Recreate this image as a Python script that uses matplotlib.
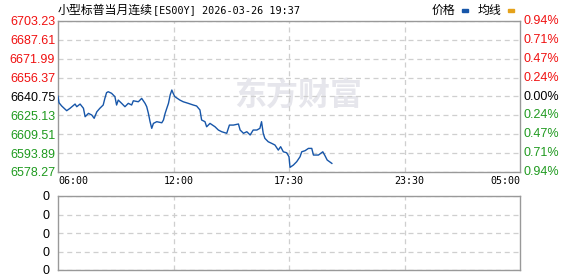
import matplotlib
matplotlib.use("Agg")
import matplotlib.pyplot as plt
import numpy as np

# minutes since 06:00, and price
minutes = [0, 3, 11, 26, 36, 51, 56, 66, 76, 81, 91, 101, 108, 116, 125, 135, 140, 145,
           150, 160, 170, 175, 180, 190, 200, 210, 220, 225, 240, 250, 260, 265, 270, 275,
           280, 285, 295, 310, 315, 320, 325, 330, 335, 340, 344, 349, 364, 374, 389, 404,
           414, 424, 429, 439, 444, 454, 469, 479, 489, 504, 512, 524, 539, 544, 554, 564,
           574, 583, 594, 603, 608, 613, 618, 628, 638, 648, 658, 665, 673, 683, 690, 693,
           703, 713, 723, 728, 738, 748, 758, 763, 778, 791, 798, 804, 811, 818]
prices = [6641.0, 6635.6, 6632.9, 6629.0, 6631.0, 6634.5, 6632.3, 6634.5, 6631.0, 6624.0,
          6626.8, 6625.4, 6622.7, 6628.1, 6631.0, 6633.7, 6639.2, 6643.9, 6644.7, 6643.4,
          6640.6, 6633.7, 6637.8, 6635.1, 6632.3, 6635.1, 6633.7, 6637.2, 6636.4, 6639.2,
          6635.1, 6632.3, 6626.8, 6619.9, 6614.4, 6618.5, 6619.9, 6619.0, 6621.3, 6626.8,
          6631.0, 6635.1, 6642.0, 6646.1, 6643.4, 6640.6, 6637.8, 6636.4, 6635.1, 6633.7,
          6632.9, 6629.6, 6621.3, 6619.9, 6615.7, 6618.5, 6615.7, 6613.0, 6611.6, 6610.3,
          6617.1, 6617.1, 6618.0, 6613.0, 6610.3, 6611.6, 6608.9, 6613.0, 6613.0, 6614.4,
          6619.9, 6610.3, 6606.1, 6603.3, 6602.0, 6600.6, 6596.4, 6599.2, 6595.0, 6594.2,
          6590.9, 6582.1, 6584.0, 6586.8, 6590.9, 6595.0, 6595.9, 6597.8, 6597.8, 6592.3,
          6592.3, 6595.0, 6591.5, 6588.2, 6586.8, 6585.4]

prev_close = 6640.75
price_ticks = [6703.23, 6687.61, 6671.99, 6656.37, 6640.75, 6625.13, 6609.51, 6593.89, 6578.27]
pct_labels = ["0.94%", "0.71%", "0.47%", "0.24%", "0.00%", "0.24%", "0.47%", "0.71%", "0.94%"]
time_labels = ["06:00", "12:00", "17:30", "23:30", "05:00"]
time_pos = [0, 360, 690, 1050, 1380]
grid_pos = [345, 690, 1035]

RED = "#f01010"
GREEN = "#1f9a1f"
BLUE = "#1756a9"
ORANGE = "#e5a21a"
GRID = "#cfcfcf"
SPINE = "#999999"

W, H = 578, 276
fig = plt.figure(figsize=(W / 100, H / 100), dpi=100)
ax = fig.add_axes([58 / W, 104 / H, 462 / W, 151 / H])
ax2 = fig.add_axes([58 / W, 6 / H, 462 / W, 74 / H])

num_font = "Liberation Sans"

# main price panel
ax.plot(minutes, prices, color=BLUE, lw=1.0, zorder=3)
ax.set_xlim(0, 1380)
ax.set_ylim(price_ticks[-1], price_ticks[0])
ax.set_yticks(price_ticks)
ax.set_yticklabels([f"{v:.2f}" for v in price_ticks], fontsize=9, family=num_font)
for lab, v in zip(ax.get_yticklabels(), price_ticks):
    if v > prev_close + 0.01:
        lab.set_color(RED)
    elif v < prev_close - 0.01:
        lab.set_color(GREEN)
    else:
        lab.set_color("black")
ax.tick_params(axis="y", length=0, pad=2)
ax.grid(axis="y", color=GRID, ls=(0, (4, 3)), lw=0.9, zorder=1)
for g in grid_pos:
    ax.axvline(g, color=GRID, ls=(0, (4, 3)), lw=0.9, zorder=1)
ax.set_xticks(time_pos)
ax.set_xticklabels(time_labels, fontsize=7.2, family="DejaVu Sans Mono")
ax.tick_params(axis="x", length=0, pad=3)
xl = ax.get_xticklabels()
xl[0].set_horizontalalignment("left")
xl[-1].set_horizontalalignment("right")
for s in ax.spines.values():
    s.set_color(SPINE)
    s.set_linewidth(1.0)

# right percentage labels
for v, t in zip(price_ticks, pct_labels):
    c = RED if v > prev_close + 0.01 else (GREEN if v < prev_close - 0.01 else "black")
    ax.text(1.008, (v - price_ticks[-1]) / (price_ticks[0] - price_ticks[-1]), t,
            transform=ax.transAxes, ha="left", va="center", fontsize=9,
            family=num_font, color=c)

# watermark
ax.text(0.52, 0.5, "东方财富", transform=ax.transAxes, ha="center", va="center",
        fontsize=23, fontweight="bold", family=["Noto Sans CJK SC"],
        color="#e6e6ec", zorder=0)

# volume panel (empty)
ax2.set_xlim(0, 1380)
ax2.set_ylim(0, 4)
ax2.set_yticks([0, 1, 2, 3, 4])
ax2.set_yticklabels(["0"] * 5, fontsize=9, family=num_font)
ax2.tick_params(axis="y", length=0, pad=6)
ax2.set_xticks([])
ax2.grid(axis="y", color=GRID, ls=(0, (4, 3)), lw=0.9)
for g in grid_pos:
    ax2.axvline(g, color=GRID, ls=(0, (4, 3)), lw=0.9)
for s in ax2.spines.values():
    s.set_color(SPINE)
    s.set_linewidth(1.0)

# title and legend
fig.text(58 / W, 1 - 10 / H, "小型标普当月连续", fontsize=8.6, family=["Noto Sans CJK SC"],
         ha="left", va="center")
fig.text(153 / W, 1 - 10 / H, "[ES00Y] 2026-03-26 19:37", fontsize=7.3,
         family="DejaVu Sans Mono", ha="left", va="center")
fig.text(432 / W, 1 - 10 / H, "价格", fontsize=8.6, family=["Noto Sans CJK SC"],
         ha="left", va="center")
fig.text(478 / W, 1 - 10 / H, "均线", fontsize=8.6, family=["Noto Sans CJK SC"],
         ha="left", va="center")
fig.add_artist(plt.Rectangle((462 / W, 1 - 12 / H), 6 / W, 3 / H, color=BLUE,
                             transform=fig.transFigure))
fig.add_artist(plt.Rectangle((508 / W, 1 - 12 / H), 6 / W, 3 / H, color=ORANGE,
                             transform=fig.transFigure))

fig.savefig("out.png", dpi=100)
